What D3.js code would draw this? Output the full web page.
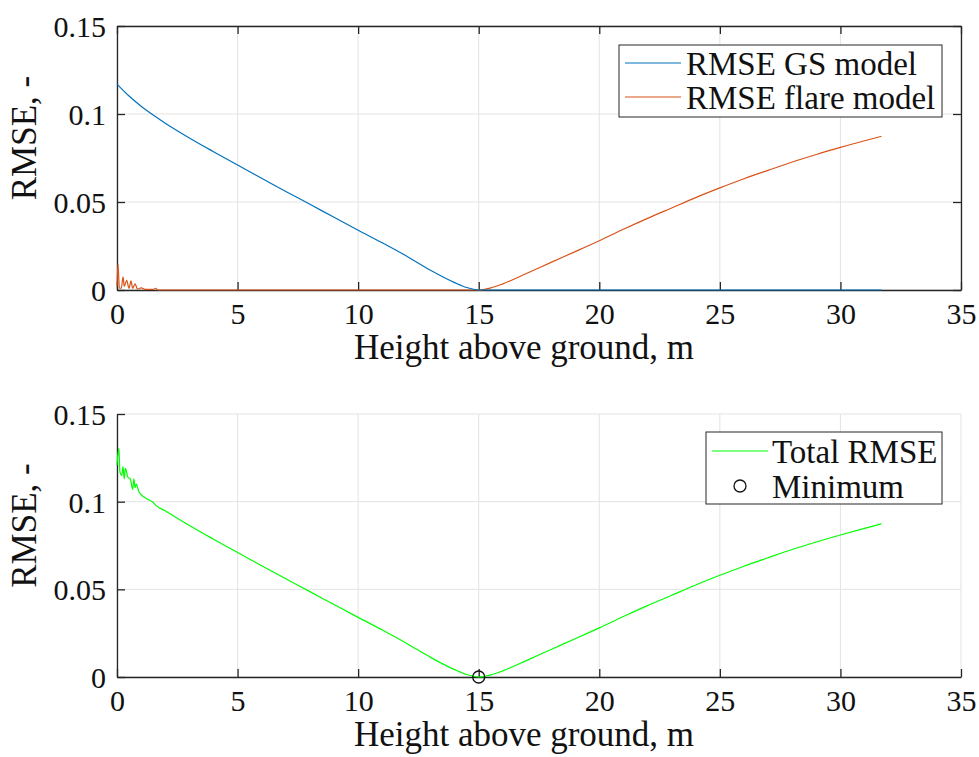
<!DOCTYPE html>
<html>
<head>
<meta charset="utf-8">
<script src="https://cdn.jsdelivr.net/npm/d3@7"></script>
<style>
  body { margin: 0; background: #fff; }
  svg { display: block; }
  svg text { font-family: "Liberation Serif", "Times New Roman", Tinos, "DejaVu Serif", serif !important; }
</style>
</head>
<body>
<svg id="chart" width="979" height="757"></svg>
<script>
// data
const xTicks = [0, 5, 10, 15, 20, 25, 30, 35];
const yTicks = [0, 0.05, 0.1, 0.15];
const yTickLabels = ["0", "0.05", "0.1", "0.15"];

// RMSE GS model (blue)
const gsX = [0, 0.5, 1, 1.5, 2, 2.5, 3, 4, 5, 6, 7, 8, 9, 10, 11, 12, 13, 14, 14.5, 15, 20, 25, 31.7];
const gsY = [0.117, 0.1102, 0.1044, 0.0994, 0.0948, 0.0905, 0.0864, 0.0786, 0.071, 0.0635, 0.056, 0.0487, 0.0413, 0.034, 0.0268, 0.0193, 0.0112, 0.0042, 0.0014, 0, 0, 0, 0];

// RMSE flare model (orange)
const flareX = [0, 0.04, 0.1, 0.18, 0.25, 0.3, 0.4, 0.5, 0.58, 0.65, 0.75, 0.85, 1.0, 1.2, 1.5, 1.6, 1.7, 5, 10, 15, 15.5, 16, 17, 18, 19, 20, 21, 22, 23, 24, 25, 26, 27, 28, 29, 30, 31, 31.7];
const flareY = [0.002, 0.0148, 0.001, 0.001, 0.0075, 0.002, 0.0055, 0.001, 0.0052, 0.001, 0.0035, 0.0005, 0.0012, 0.0003, 0.0003, 0.001, 0, 0, 0, 0, 0.0012, 0.0035, 0.0095, 0.0157, 0.0218, 0.028, 0.0345, 0.0407, 0.0466, 0.0525, 0.058, 0.0632, 0.068, 0.0727, 0.077, 0.081, 0.0848, 0.0873];

// Total RMSE (green)
const totalX = [0, 0.08, 0.12, 0.2, 0.25, 0.3, 0.35, 0.45, 0.55, 0.65, 0.7, 0.75, 0.8, 0.9, 1.0, 1.2, 1.5, 1.6, 2, 2.5, 3, 4, 5, 6, 7, 8, 9, 10, 11, 12, 13, 14, 14.5, 15, 15.5, 16, 17, 18, 19, 20, 21, 22, 23, 24, 25, 26, 27, 28, 29, 30, 31, 31.7];
const totalY = [0.121, 0.1306, 0.117, 0.115, 0.12, 0.113, 0.119, 0.114, 0.113, 0.107, 0.113, 0.108, 0.110, 0.106, 0.104, 0.102, 0.0995, 0.098, 0.0948, 0.0905, 0.0864, 0.0786, 0.071, 0.0635, 0.056, 0.0487, 0.0413, 0.034, 0.0268, 0.0193, 0.0112, 0.0042, 0.0014, 0, 0.0012, 0.0035, 0.0095, 0.0157, 0.0218, 0.028, 0.0345, 0.0407, 0.0466, 0.0525, 0.058, 0.0632, 0.068, 0.0727, 0.077, 0.081, 0.0848, 0.0873];

const minX = [15];
const minY = [0];

const svg = d3.select("#chart");
const left = 117, right = 961;

function drawAxes(top, bottom, boxed) {
    const x = d3.scaleLinear().domain([0, 35]).range([left, right]);
    const y = d3.scaleLinear().domain([0, 0.15]).range([bottom, top]);
    const g = svg.append("g");

    // grid
    g.append("g").selectAll("line").data(xTicks).join("line")
        .attr("x1", d => x(d)).attr("x2", d => x(d))
        .attr("y1", top).attr("y2", bottom)
        .attr("stroke", "#e3e3e3").attr("stroke-width", 1);
    g.append("g").selectAll("line").data(yTicks).join("line")
        .attr("x1", left).attr("x2", right)
        .attr("y1", d => y(d)).attr("y2", d => y(d))
        .attr("stroke", "#e3e3e3").attr("stroke-width", 1);

    // axes with inward ticks
    const xAxis = g.append("g").attr("transform", `translate(0,${bottom})`)
        .call(d3.axisBottom(x).tickValues(xTicks).tickSizeInner(-8).tickSizeOuter(0).tickPadding(13));
    const yAxis = g.append("g").attr("transform", `translate(${left},0)`)
        .call(d3.axisLeft(y).tickValues(yTicks).tickFormat((d, i) => yTickLabels[i]).tickSizeInner(-8).tickSizeOuter(0).tickPadding(11));
    [xAxis, yAxis].forEach(a => {
        a.select(".domain").attr("stroke", "#262626").attr("stroke-width", 1.3);
        a.selectAll(".tick line").attr("stroke", "#262626").attr("stroke-width", 1.3);
        a.selectAll(".tick text").attr("font-size", 30).attr("fill", "#111");
    });
    xAxis.selectAll(".tick text").attr("dy", "0.71em");
    yAxis.selectAll(".tick text").attr("dy", "0.35em");

    if (boxed) {
        const t = g.append("g").attr("transform", `translate(0,${top})`)
            .call(d3.axisTop(x).tickValues(xTicks).tickSizeInner(-8).tickSizeOuter(0).tickFormat(""));
        const r = g.append("g").attr("transform", `translate(${right},0)`)
            .call(d3.axisRight(y).tickValues(yTicks).tickSizeInner(-8).tickSizeOuter(0).tickFormat(""));
        [t, r].forEach(a => {
            a.select(".domain").attr("stroke", "#262626").attr("stroke-width", 1.3);
            a.selectAll(".tick line").attr("stroke", "#262626").attr("stroke-width", 1.3);
        });
    }

    g.append("text")
        .attr("x", 524).attr("y", bottom + 69)
        .attr("text-anchor", "middle").attr("font-size", 35).attr("fill", "#111")
        .text("Height above ground, m");
    g.append("text")
        .attr("transform", `translate(36,${(top + bottom) / 2 - 20}) rotate(-90)`)
        .attr("text-anchor", "middle").attr("font-size", 35).attr("fill", "#111")
        .text("RMSE, -");
    return { x, y, g };
}

function drawLine(ax, xs, ys, color) {
    const pts = xs.map((v, i) => [v, ys[i]]);
    ax.g.append("path").datum(pts)
        .attr("fill", "none").attr("stroke", color).attr("stroke-width", 1.2)
        .attr("d", d3.line().curve(d3.curveMonotoneX).x(d => ax.x(d[0])).y(d => ax.y(d[1])));
}

// top subplot
const top1 = drawAxes(26, 290, true);
drawLine(top1, flareX, flareY, "#D95319");
drawLine(top1, gsX, gsY, "#0072BD");

const leg1 = top1.g.append("g");
leg1.append("rect").attr("x", 619).attr("y", 45).attr("width", 323).attr("height", 72)
    .attr("fill", "#fff").attr("stroke", "#262626").attr("stroke-width", 1);
[["RMSE GS model", "#0072BD"], ["RMSE flare model", "#D95319"]].forEach((d, i) => {
    const cy = 63 + i * 34;
    leg1.append("line").attr("x1", 625).attr("x2", 681).attr("y1", cy).attr("y2", cy)
        .attr("stroke", d[1]).attr("stroke-width", 1.2);
    leg1.append("text").attr("x", 686).attr("y", cy).attr("dy", "0.35em")
        .attr("font-size", 33).attr("fill", "#111").text(d[0]);
});

// bottom subplot
const bot = drawAxes(414, 677, false);
drawLine(bot, totalX, totalY, "#00FF00");
bot.g.append("g").selectAll("circle").data(minX).join("circle")
    .attr("cx", d => bot.x(d)).attr("cy", (d, i) => bot.y(minY[i])).attr("r", 6)
    .attr("fill", "none").attr("stroke", "#111").attr("stroke-width", 1.3);

const leg2 = bot.g.append("g");
leg2.append("rect").attr("x", 706).attr("y", 432).attr("width", 236).attr("height", 72)
    .attr("fill", "#fff").attr("stroke", "#262626").attr("stroke-width", 1);
leg2.append("line").attr("x1", 712).attr("x2", 768).attr("y1", 451).attr("y2", 451)
    .attr("stroke", "#00FF00").attr("stroke-width", 1.2);
leg2.append("text").attr("x", 772).attr("y", 451).attr("dy", "0.35em")
    .attr("font-size", 33).attr("fill", "#111").text("Total RMSE");
leg2.append("circle").attr("cx", 740).attr("cy", 486).attr("r", 6)
    .attr("fill", "none").attr("stroke", "#111").attr("stroke-width", 1.3);
leg2.append("text").attr("x", 772).attr("y", 486).attr("dy", "0.35em")
    .attr("font-size", 33).attr("fill", "#111").text("Minimum");
</script>
</body>
</html>
